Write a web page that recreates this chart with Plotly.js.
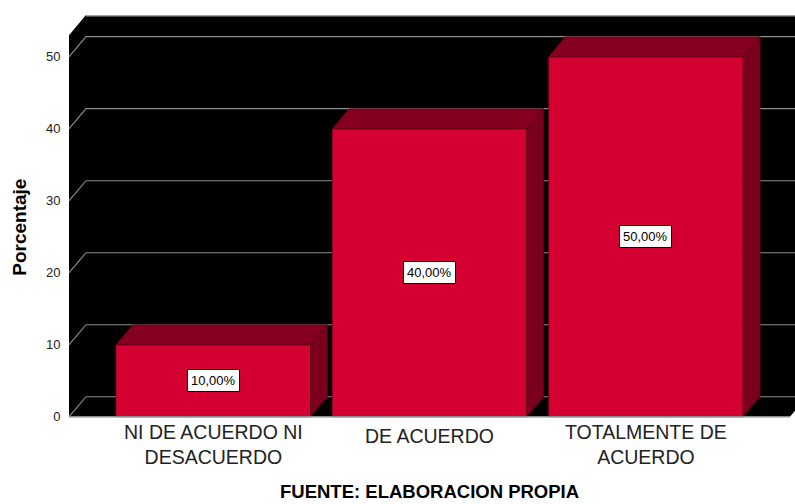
<!DOCTYPE html>
<html>
<head>
<meta charset="utf-8">
<script src="https://cdn.plot.ly/plotly-3.0.1.min.js"></script>
<style>html,body{margin:0;padding:0;background:#fff;}#chart{width:795px;height:504px;}</style>
</head>
<body>
<div id="chart"></div>
<script>
// ---- data ----
const categories = ["NI DE ACUERDO NI<br>DESACUERDO", "DE ACUERDO", "TOTALMENTE DE<br>ACUERDO"];
const percentages = [10, 40, 50];
const barLabels = ["10,00%", "40,00%", "50,00%"];
const yTicks = [0, 10, 20, 30, 40, 50];
const yTitle = "Porcentaje";
const footer = "FUENTE: ELABORACION PROPIA";

// ---- style / geometry ----
const FONT = "Arial, Liberation Sans, sans-serif";
const FRONT = "rgb(213,0,50)";
const TOP = "rgb(133,0,31)";
const SIDE = "rgb(122,0,30)";
const EDGE = "rgb(90,0,18)";
const GRID = "#8f8f8f";
const barW = 0.9;
const dx = 0.0786;   // depth offset in category units
const dy = 2.8;      // depth offset in value units
const xL = -0.6667, xR = 2.6667;
const yMin = -0.3, yMax = 55.81;
const frontTop = yMax - dy;

const xs = categories.map((_, i) => i);

const traces = [];
// front faces
traces.push({
  type: "bar", x: xs, y: percentages, width: barW,
  marker: {color: FRONT, line: {color: EDGE, width: 0.6}},
  hoverinfo: "skip", showlegend: false
});
// top and side faces
xs.forEach((c, i) => {
  const v = percentages[i];
  const a = c - barW / 2, b = c + barW / 2;
  traces.push({
    type: "scatter", mode: "lines", fill: "toself", fillcolor: TOP,
    x: [a, a + dx, b + dx, b, a], y: [v, v + dy, v + dy, v, v],
    line: {color: EDGE, width: 0.6}, hoverinfo: "skip", showlegend: false
  });
  traces.push({
    type: "scatter", mode: "lines", fill: "toself", fillcolor: SIDE,
    x: [b, b, b + dx, b + dx, b], y: [0, v, v + dy, dy, 0],
    line: {color: EDGE, width: 0.6}, hoverinfo: "skip", showlegend: false
  });
});

// background box and back-wall gridlines
const shapes = [];
shapes.push({
  type: "path", layer: "below", xref: "x", yref: "y",
  path: `M ${xL},0 L ${xL},${frontTop} L ${xL + dx},${frontTop + dy} L ${xR + dx},${frontTop + dy} L ${xR + dx},${dy} L ${xR},0 Z`,
  fillcolor: "#000", line: {width: 0}
});
yTicks.forEach(v => {
  shapes.push({
    type: "path", layer: "below", xref: "x", yref: "y",
    path: `M ${xL},${v} L ${xL + dx},${v + dy} L ${xR + dx},${v + dy}`,
    line: {color: GRID, width: 1.1}
  });
});
// top border and front floor edge
shapes.push({type: "line", layer: "below", xref: "x", yref: "y",
  x0: xL + dx, x1: xR + dx, y0: frontTop + dy - 0.1, y1: frontTop + dy - 0.1, line: {color: "#a0a0a0", width: 1.5}});
shapes.push({type: "line", layer: "above", xref: "x", yref: "y",
  x0: xL, x1: xR, y0: 0, y1: 0, line: {color: "#8a8a8a", width: 1.5}});

const annotations = xs.map((c, i) => ({
  x: c, y: percentages[i] / 2, xref: "x", yref: "y",
  text: barLabels[i], showarrow: false,
  bgcolor: "#fff", bordercolor: "#000", borderwidth: 1, borderpad: 3,
  font: {family: FONT, size: 13, color: "#000"}
}));
// category labels
categories.forEach((label, i) => {
  const multi = label.indexOf("<br>") >= 0;
  annotations.push({
    x: xs[i], xref: "x", yref: "paper", y: multi ? -0.064 : -0.0428,
    yanchor: "middle", xanchor: "center",
    text: label, showarrow: false,
    font: {family: FONT, size: 19.5, color: "#222"}
  });
});
annotations.push({
  xref: "paper", yref: "y", x: -0.0675, y: 26.4, xanchor: "center", yanchor: "middle",
  text: "<b>" + yTitle + "</b>", textangle: -90, showarrow: false,
  font: {family: FONT, size: 19, color: "#000"}
});
annotations.push({
  xref: "x", yref: "paper", x: 1, y: -0.2105, yanchor: "bottom", xanchor: "center",
  text: "<b>" + footer + "</b>", showarrow: false,
  font: {family: FONT, size: 18.5, color: "#000"}
});

const layout = {
  width: 795, height: 504,
  margin: {l: 69, r: 0, t: 15, b: 85, pad: 0},
  paper_bgcolor: "#fff", plot_bgcolor: "#fff",
  showlegend: false,
  bargap: 0,
  xaxis: {
    range: [xL, 2.69], tickvals: xs, showticklabels: false,
    showgrid: false, zeroline: false, showline: false, ticks: "",
    fixedrange: true
  },
  yaxis: {
    range: [yMin, yMax], tickvals: yTicks,
    showgrid: false, zeroline: false, showline: false,
    ticks: "outside", ticklen: 5, tickcolor: "rgba(0,0,0,0)",
    tickfont: {family: FONT, size: 13, color: "#222"},
    fixedrange: true
  },
  shapes: shapes,
  annotations: annotations
};

Plotly.newPlot("chart", traces, layout, {displayModeBar: false, staticPlot: true});
</script>
</body>
</html>
